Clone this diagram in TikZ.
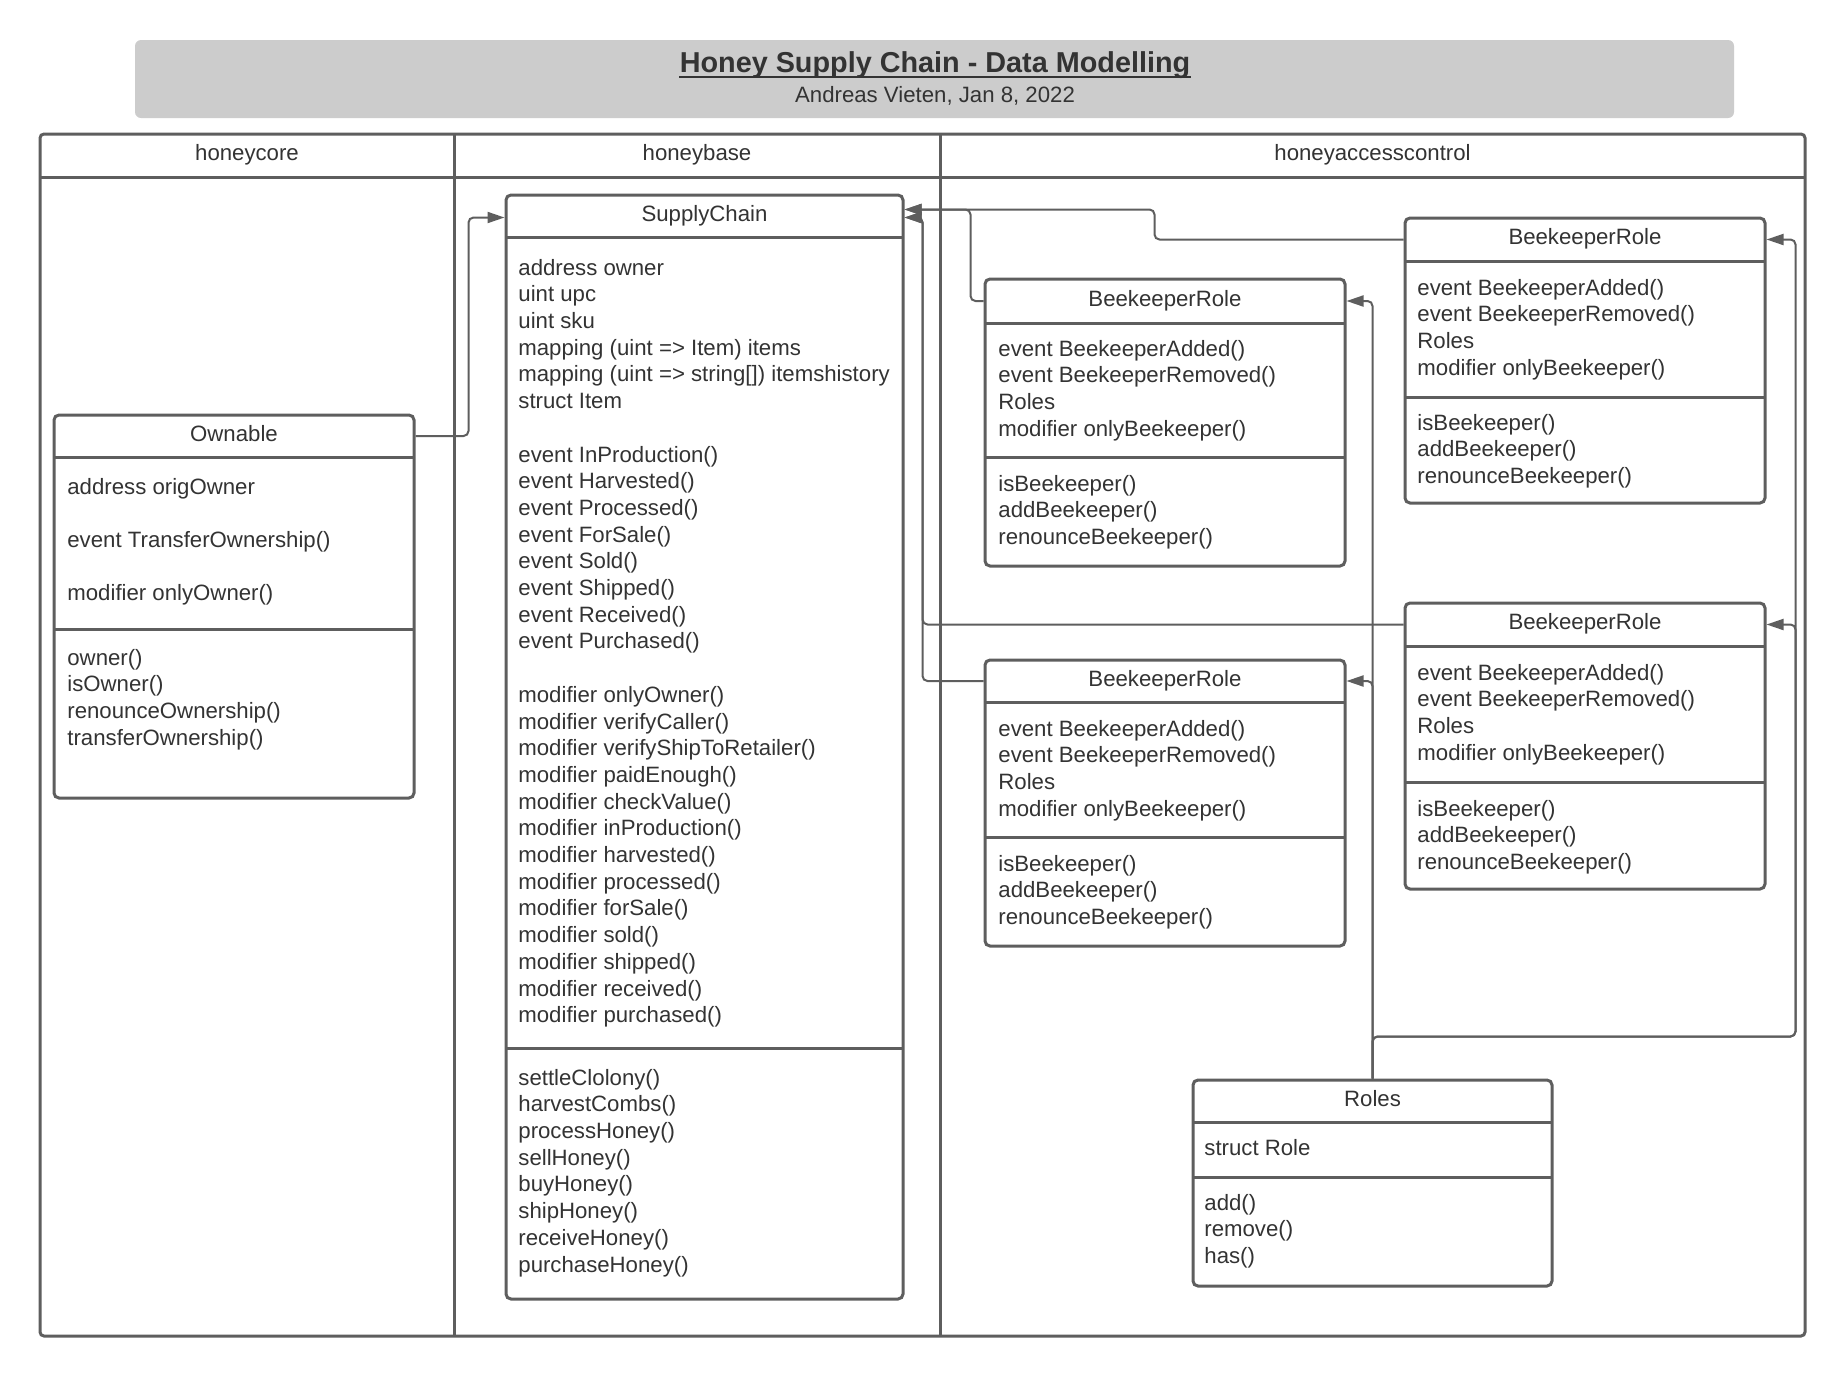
\documentclass[tikz,border=0pt]{standalone}
\usepackage{fontspec}
\setmainfont{Liberation Sans}
\usetikzlibrary{fit,arrows.meta,calc}
\definecolor{lc}{HTML}{5E5E5E}
\definecolor{tc}{HTML}{333333}
\definecolor{bannerfill}{HTML}{CCCCCC}
\newcommand{\bodyfont}{\fontsize{11.1pt}{13.35pt}\selectfont}
\newcommand{\titlefont}{\fontsize{14.4pt}{17pt}\selectfont\bfseries}
\begin{document}
\begin{tikzpicture}[x=0.5pt,y=-0.5pt,
  box/.style={draw=lc, line width=1.5pt, rounded corners=2.5pt, inner sep=0pt, fill=white},
  sepline/.style={draw=lc, line width=1.5pt},
  lane/.style={draw=lc, line width=1.5pt},
  hdr/.style={font=\bodyfont, text=tc, inner sep=0pt},
  cmp/.style={font=\bodyfont, text=tc, inner sep=0pt, anchor=north west, align=left},
  conn/.style={draw=lc, line width=1pt, rounded corners=2.5pt, -{Triangle[length=8.5pt,width=5.5pt]}}
]
\useasboundingbox (0,0) rectangle (1846,1377);
\fill[white] (0,0) rectangle (1846,1377);

% banner
\fill[bannerfill, rounded corners=3pt] (135,40) rectangle (1734,118);
\node[font=\titlefont, text=tc, inner sep=0pt] (title) at (935,65.5) {Honey Supply Chain - Data Modelling};
\draw[tc, line width=1pt] ([yshift=-2.3pt]title.base west) -- ([yshift=-2.3pt]title.base east);
\node[hdr] (subtitle) at (935,97.5) {\strut Andreas Vieten, Jan 8, 2022};

% swimlanes
\draw[lane, rounded corners=2pt] (40,134) rectangle (1805,1336);
\draw[lane] (40,177) -- (1805,177);
\draw[lane] (454,134) -- (454,1336);
\draw[lane] (940,134) -- (940,1336);
\node[hdr] (lane1) at (247,155.5) {\strut honeycore};
\node[hdr] (lane2) at (697,155.5) {\strut honeybase};
\node[hdr] (lane3) at (1372.5,155.5) {\strut honeyaccesscontrol};

% Ownable
\node[box, fit={(54,415)(414,798)}] (own) {};
\draw[sepline] (54,457) -- (414,457);
\draw[sepline] (54,629) -- (414,629);
\node[hdr] (ownt) at (234,436) {\strut Ownable};
\node[cmp] (owna) at (67,475) {\strut address origOwner\\ \strut\\ event TransferOwnership()\\ \strut\\ modifier onlyOwner()};
\node[cmp] (ownm) at (67,646) {\strut owner()\\ isOwner()\\ renounceOwnership()\\ transferOwnership()};

% SupplyChain
\node[box, fit={(506,195)(903,1299)}] (sc) {};
\draw[sepline] (506,237) -- (903,237);
\draw[sepline] (506,1048) -- (903,1048);
\node[hdr] (sct) at (704.5,216) {\strut SupplyChain};
\node[cmp] (sca) at (518,256) {\strut address owner\\ uint upc\\ uint sku\\ mapping (uint => Item) items\\ mapping (uint => string[]) itemshistory\\ struct Item\\ \strut\\ event InProduction()\\ event Harvested()\\ event Processed()\\ event ForSale()\\ event Sold()\\ event Shipped()\\ event Received()\\ event Purchased()\\ \strut\\ modifier onlyOwner()\\ modifier verifyCaller()\\ modifier verifyShipToRetailer()\\ modifier paidEnough()\\ modifier checkValue()\\ modifier inProduction()\\ modifier harvested()\\ modifier processed()\\ modifier forSale()\\ modifier sold()\\ modifier shipped()\\ modifier received()\\ modifier purchased()};
\node[cmp] (scm) at (518,1066) {\strut settleClolony()\\ harvestCombs()\\ processHoney()\\ sellHoney()\\ buyHoney()\\ shipHoney()\\ receiveHoney()\\ purchaseHoney()};

% BeekeeperRole 1 (left top)
\node[box, fit={(985,279)(1345,566)}] (br1) {};
\draw[sepline] (985,323) -- (1345,323);
\draw[sepline] (985,457) -- (1345,457);
\node[hdr] (br1t) at (1165,301) {\strut BeekeeperRole};
\node[cmp] (br1a) at (998,337) {\strut event BeekeeperAdded()\\ event BeekeeperRemoved()\\ Roles\\ modifier onlyBeekeeper()};
\node[cmp] (br1m) at (998,472) {\strut isBeekeeper()\\ addBeekeeper()\\ renounceBeekeeper()};

% BeekeeperRole 2 (right top)
\node[box, fit={(1405,218)(1765,503)}] (br2) {};
\draw[sepline] (1405,261) -- (1765,261);
\draw[sepline] (1405,397) -- (1765,397);
\node[hdr] (br2t) at (1585,239.5) {\strut BeekeeperRole};
\node[cmp] (br2a) at (1417,276) {\strut event BeekeeperAdded()\\ event BeekeeperRemoved()\\ Roles\\ modifier onlyBeekeeper()};
\node[cmp] (br2m) at (1417,411) {\strut isBeekeeper()\\ addBeekeeper()\\ renounceBeekeeper()};

% BeekeeperRole 3 (right middle)
\node[box, fit={(1405,603)(1765,889)}] (br3) {};
\draw[sepline] (1405,646) -- (1765,646);
\draw[sepline] (1405,782) -- (1765,782);
\node[hdr] (br3t) at (1585,624.5) {\strut BeekeeperRole};
\node[cmp] (br3a) at (1417,661) {\strut event BeekeeperAdded()\\ event BeekeeperRemoved()\\ Roles\\ modifier onlyBeekeeper()};
\node[cmp] (br3m) at (1417,797) {\strut isBeekeeper()\\ addBeekeeper()\\ renounceBeekeeper()};

% BeekeeperRole 4 (left bottom)
\node[box, fit={(985,660)(1345,946)}] (br4) {};
\draw[sepline] (985,702) -- (1345,702);
\draw[sepline] (985,837) -- (1345,837);
\node[hdr] (br4t) at (1165,681) {\strut BeekeeperRole};
\node[cmp] (br4a) at (998,717) {\strut event BeekeeperAdded()\\ event BeekeeperRemoved()\\ Roles\\ modifier onlyBeekeeper()};
\node[cmp] (br4m) at (998,852) {\strut isBeekeeper()\\ addBeekeeper()\\ renounceBeekeeper()};

% Roles
\node[box, fit={(1193,1080)(1552,1286)}] (roles) {};
\draw[sepline] (1193,1122) -- (1552,1122);
\draw[sepline] (1193,1177) -- (1552,1177);
\node[hdr] (rolest) at (1372.5,1101) {\strut Roles};
\node[cmp] (rolesa) at (1204,1136) {\strut struct Role};
\node[cmp] (rolesm) at (1204,1191) {\strut add()\\ remove()\\ has()};

% connector endpoints
\coordinate (scA) at ([yshift=-8pt]sc.north east);
\coordinate (scB) at ([yshift=-12pt]sc.north east);
\coordinate (scC) at ([yshift=-12pt]sc.north west);
\coordinate (br1in) at (br1.east |- br1t);
\coordinate (br2in) at (br2.east |- br2t);
\coordinate (br3in) at (br3.east |- br3t);
\coordinate (br4in) at (br4.east |- br4t);

% connectors
\draw[conn] (own.east |- ownt) -| ([xshift=-18pt]scC) -- (scC);
\draw[conn] (br1.west |- br1t) -| ([xshift=33pt]scA) -- (scA);
\draw[conn] (br2.west |- br2t) -| ([xshift=125pt]scA) -- (scA);
\draw[conn] (br3.west |- br3t) -| ([xshift=9pt]scB) -- (scB);
\draw[conn] (br4.west |- br4t) -| ([xshift=9pt]scB) -- (scB);
\draw[conn] (roles.north) |- (br1in);
\draw[conn] (roles.north) |- (br4in);
\draw[conn] (roles.north) -- ++(0,-42) -| ([xshift=14.5pt]br2in) -- (br2in);
\draw[conn] (roles.north) -- ++(0,-42) -| ([xshift=14.5pt]br3in) -- (br3in);
\end{tikzpicture}
\end{document}
